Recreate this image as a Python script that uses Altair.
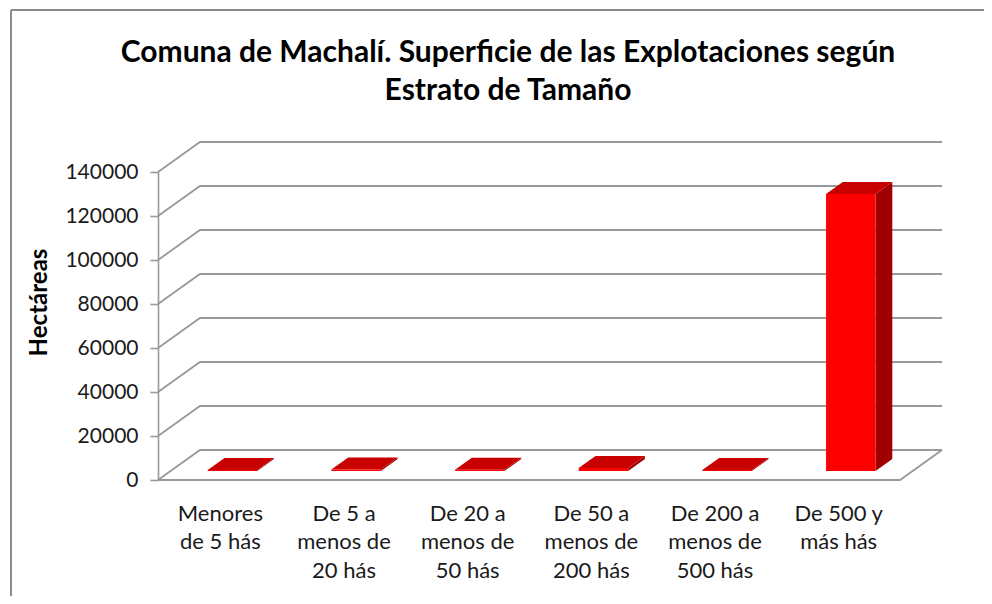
import json
import altair as alt
import pandas as pd

# ---------------- data ----------------
CATEGORY_LINES = [
    ["Menores", "de 5 hás"],
    ["De 5 a", "menos de", "20 hás"],
    ["De 20 a", "menos de", "50 hás"],
    ["De 50 a", "menos de", "200 hás"],
    ["De 200 a", "menos de", "500 hás"],
    ["De 500 y", "más hás"],
]
VALUES = [400, 650, 550, 1400, 450, 125900]
Y_TICKS = [0, 20000, 40000, 60000, 80000, 100000, 120000, 140000]
TITLE_LINES = ["Comuna de Machalí. Superficie de las Explotaciones según", "Estrato de Tamaño"]
Y_TITLE = "Hectáreas"

# ---------------- layout / projection ----------------
W, H = 742, 308
N = len(VALUES)
Y_MAX = Y_TICKS[-1]
DX = 42 / (W / N)          # back-wall depth shift, in category units
DY = 30 / H * Y_MAX        # back-wall depth shift, in value units
D0, D1 = 0.3, 0.7          # bar depth span (fraction of full depth)
BAR_W = 0.4

FONT = "Lato"
GRID = "#999999"

XS = alt.Scale(domain=[0, N], nice=False, zero=False)
YS = alt.Scale(domain=[0, Y_MAX], nice=False)

label_js = json.dumps(["|".join(l) for l in CATEGORY_LINES], ensure_ascii=False)
X_AXIS = alt.Axis(
    values=[i + 0.5 for i in range(N)],
    labelExpr=f"split({label_js}[floor(datum.value)], '|')",
    domain=False, ticks=False, grid=False, title=None,
    labelFont=FONT, labelFontSize=22, labelLineHeight=28.5, labelColor="#1a1a1a",
    labelPadding=23, labelAngle=0, labelOverlap=False,
)
Y_AXIS = alt.Axis(
    values=Y_TICKS, format="d", grid=False,
    title=Y_TITLE, titleFont=FONT, titleFontSize=24, titleFontWeight="bold",
    titleColor="#000000", titleX=-119, titleY=130, titleBaseline="middle",
    labelFont=FONT, labelFontSize=21, labelColor="#1a1a1a", labelPadding=12,
    tickSize=8, tickColor=GRID, tickWidth=1.6, domainColor=GRID, domainWidth=1.6,
)


def X(f):
    return alt.X(f, type="quantitative", scale=XS, axis=X_AXIS)


def Y(f):
    return alt.Y(f, type="quantitative", scale=YS, axis=Y_AXIS)


# ---------------- derived tables ----------------
grid_rows = []
for v in Y_TICKS:
    pts = [(0, v), (DX, v + DY), (N + DX, v + DY)]
    for k, (x, y) in enumerate(pts):
        grid_rows.append({"g": f"g{v}", "k": k, "x": x, "y": y})
for k, (x, y) in enumerate([(0, 0), (N, 0), (N + DX, DY)]):
    grid_rows.append({"g": "floor", "k": k, "x": x, "y": y})
grid_df = pd.DataFrame(grid_rows)

front_rows, top_rows, side_rows = [], [], []
for i, v in enumerate(VALUES):
    L = i + 0.5 - BAR_W / 2
    R = i + 0.5 + BAR_W / 2
    front_rows.append({"b": i, "x": L + D0 * DX, "x2": R + D0 * DX,
                       "y": v + D0 * DY, "y2": D0 * DY})
    for d in (D0, D1):
        top_rows.append({"b": i, "y": v + d * DY, "x": L + d * DX, "x2": R + d * DX})
        side_rows.append({"b": i, "x": R + d * DX, "y": v + d * DY, "y2": d * DY})
front_df = pd.DataFrame(front_rows)
top_df = pd.DataFrame(top_rows)
side_df = pd.DataFrame(side_rows)

# ---------------- layers ----------------
grid = alt.Chart(grid_df).mark_line(color=GRID, strokeWidth=1.8).encode(
    x=X("x"), y=Y("y"), detail="g:N", order="k:Q"
)
side = alt.Chart(side_df).mark_area(orient="vertical", color="#a00000").encode(
    x=X("x"), y=Y("y"), y2="y2", detail="b:N"
)
top = alt.Chart(top_df).mark_area(orient="horizontal", color="#c80000").encode(
    y=Y("y"), x=X("x"), x2="x2", detail="b:N"
)
front = alt.Chart(front_df).mark_rect(color="#ff0000").encode(
    x=X("x"), x2="x2", y=Y("y"), y2="y2"
)

title_df = pd.DataFrame({"t": ["\n".join(TITLE_LINES)]})
title = alt.Chart(title_df).mark_text(
    font=FONT, fontSize=30, fontWeight="bold", color="#000000",
    align="center", baseline="alphabetic", lineBreak="\n", lineHeight=38,
).encode(text="t:N", x=alt.value(350), y=alt.value(-110))

border_df = pd.DataFrame({"s": ["top", "left"]})
border_top = alt.Chart(border_df).transform_filter("datum.s == 'top'").mark_rule(
    color="#8c8c8c", strokeWidth=2
).encode(x=alt.value(-147), x2=alt.value(W + 90), y=alt.value(-162))
border_left = alt.Chart(border_df).transform_filter("datum.s == 'left'").mark_rule(
    color="#8c8c8c", strokeWidth=2
).encode(x=alt.value(-147), y=alt.value(-162), y2=alt.value(H + 130))

chart = alt.layer(grid, side, top, front, title, border_top, border_left).properties(
    width=W, height=H,
    autosize=alt.AutoSizeParams(type="none"),
    padding={"left": 150, "top": 164, "right": 84, "bottom": 116},
    background="white",
).configure_view(stroke=None)

chart.save("out.html", embed_options={"renderer": "svg", "actions": False})
